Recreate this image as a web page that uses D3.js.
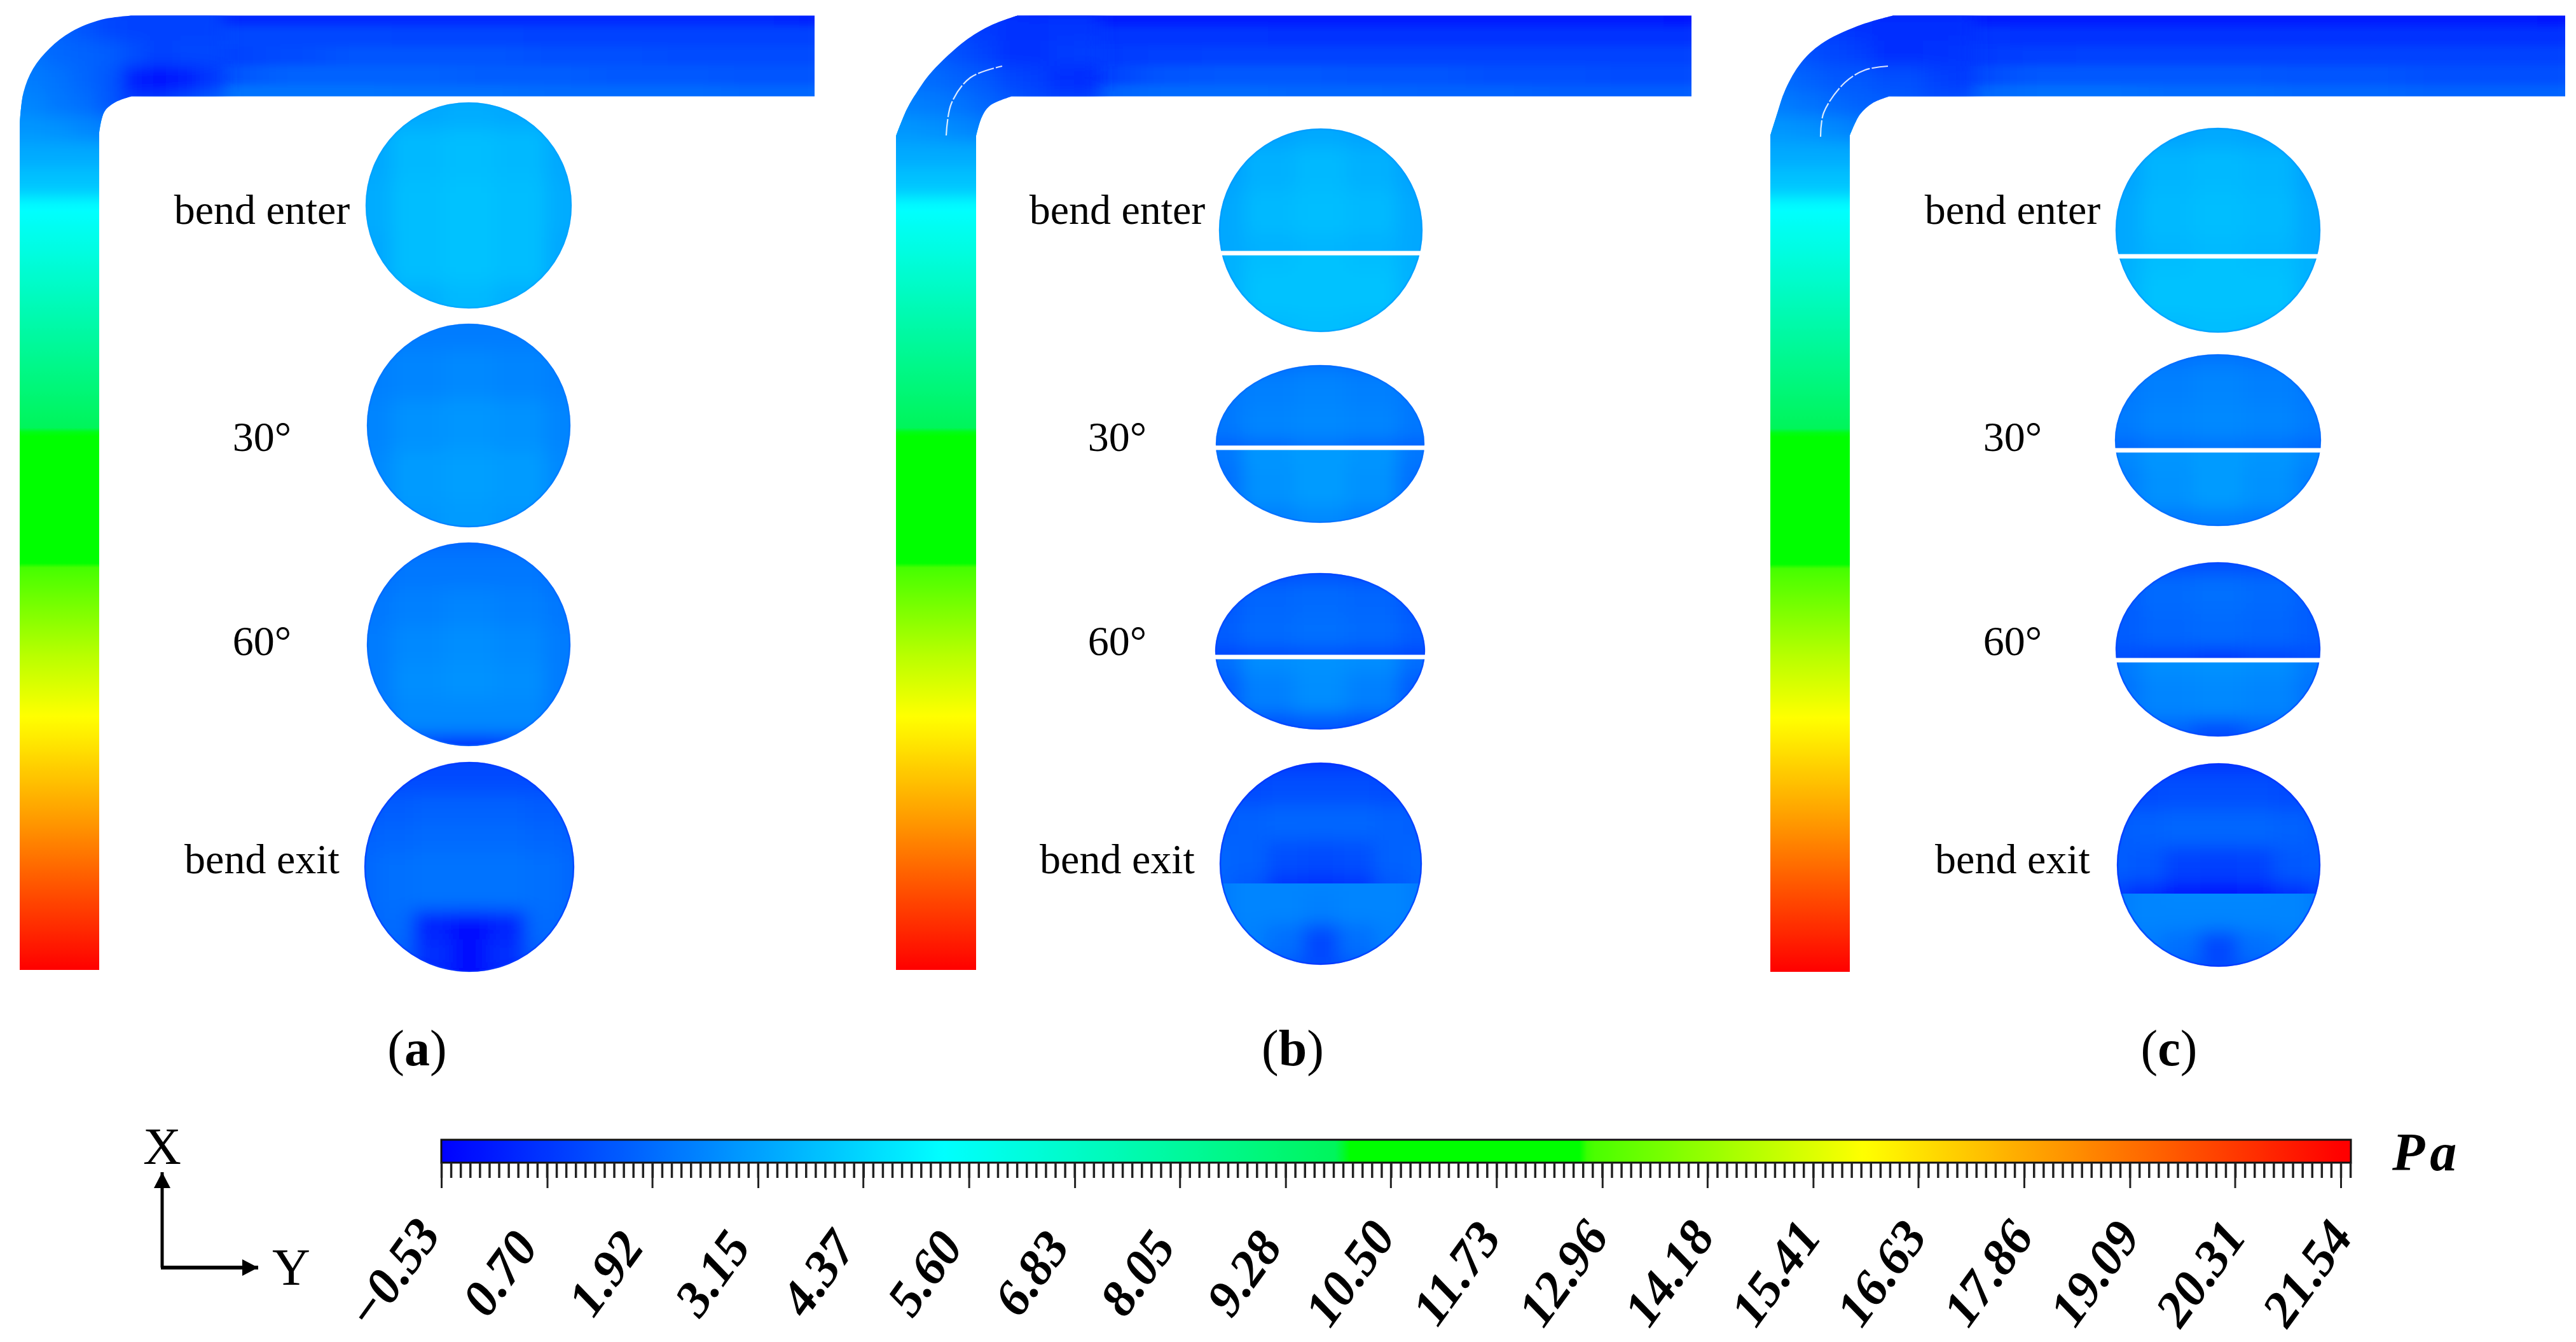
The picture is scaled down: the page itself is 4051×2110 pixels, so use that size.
<!DOCTYPE html>
<meta charset="utf-8">
<style>
body { margin: 0; background: #fff; }
text { font-family: "Liberation Serif", serif; fill: #000; }
</style>
<svg id="chart" width="4051" height="2110"></svg>
<script src="https://d3js.org/d3.v7.min.js"></script>
<script>

// colour bar, values in Pa
var colorStops = [-0.53, 5.29, 9.9, 10.0, 12.7, 12.8, 16.0, 21.54];
var colorNames = ["#0000ff", "#00ffff", "#00f55a", "#00ff00", "#00ff00", "#46ff00", "#ffff00", "#ff0000"];
var barTicks = [-0.53, 0.70, 1.92, 3.15, 4.37, 5.60, 6.83, 8.05, 9.28, 10.50, 11.73, 12.96, 14.18, 15.41, 16.63, 17.86, 19.09, 20.31, 21.54];
var sectionNames = ["bend enter", "30°", "60°", "bend exit"];
var panelNames = ["a", "b", "c"];

// pressure down the straight leg, top of the leg to the inlet
var legStations = [150, 275, 400, 525, 650, 775, 900, 1025, 1150, 1275, 1400, 1525];
var legPressure = [2.7, 4.6, 6.2, 7.9, 9.6, 11.2, 12.9, 14.7, 16.3, 18.0, 19.8, 21.54];

// pressure round the bend
var bendA = [
	[1.6, 1.6, 1.5, 1.3, 1.0, 0.9, 0.9, 0.9, 0.9],
	[1.9, 1.9, 1.7, 1.4, 1.1, 1.0, 1.0, 1.0, 1.0],
	[2.1, 2.1, 1.85, 1.75, 1.6, 1.3, 0.9, 1.07, 1.07],
	[2.3, 2.3, 2.1, 1.8, 1.5, 0.15, -0.3, 0.1, 0.7],
	[2.5, 2.5, 2.2, 2.0, 1.5, 0.8, 0.8, 1.2, 1.6],
	[2.9, 2.9, 2.8, 2.6, 2.4, 2.0, 2.0, 2.0, 2.0],
	[3.35, 3.35, 3.35, 3.35, 3.35, 3.35, 3.35, 3.35, 3.35],
	[3.9, 3.9, 3.9, 3.9, 3.9, 3.9, 3.9, 3.9, 3.9]
];
var bendB = [
	[0.9, 0.9, 0.9, 0.8, 0.6, 0.4, 0.3, 0.3, 0.3],
	[1.3, 1.3, 1.2, 1.0, 0.8, 0.6, 0.6, 0.7, 0.7],
	[1.7, 1.7, 1.6, 1.3, 1.0, 0.6, 0.6, 0.8, 0.85],
	[2.0, 2.0, 1.9, 1.7, 1.5, 1.1, 0.9, 0.5, 0.4],
	[2.4, 2.4, 2.3, 2.1, 1.8, 1.5, 1.2, 1.0, 1.0],
	[2.9, 2.9, 2.8, 2.6, 2.4, 2.0, 2.0, 2.0, 2.0],
	[3.35, 3.35, 3.35, 3.35, 3.35, 3.35, 3.35, 3.35, 3.35],
	[3.9, 3.9, 3.9, 3.9, 3.9, 3.9, 3.9, 3.9, 3.9]
];
var bendC = [
	[0.7, 0.7, 0.7, 0.6, 0.5, 0.3, 0.2, 0.2, 0.2],
	[1.1, 1.1, 1.0, 0.8, 0.6, 0.5, 0.5, 0.5, 0.5],
	[1.5, 1.5, 1.3, 1.1, 0.9, 0.5, 0.5, 0.6, 0.7],
	[1.9, 1.9, 1.7, 1.5, 1.5, 1.3, 1.3, 1.0, 0.8],
	[2.3, 2.3, 2.1, 1.9, 1.7, 1.6, 1.5, 1.3, 1.3],
	[2.9, 2.9, 2.8, 2.6, 2.4, 2.0, 2.0, 2.0, 2.0],
	[3.35, 3.35, 3.35, 3.35, 3.35, 3.35, 3.35, 3.35, 3.35],
	[3.9, 3.9, 3.9, 3.9, 3.9, 3.9, 3.9, 3.9, 3.9]
];

// pressure along the outlet leg, top wall to bottom wall
var outletA = [
	[0.4, 0.4, 0.4, 0.4, 0.4, 0.4, 0.4, 0.4, 0.4, 0.4, 0.3],
	[1.1, 1.1, 1.1, 1.1, 1.05, 1.05, 1.0, 1.0, 1.0, 1.0, 1.0],
	[0.8, 1.0, 1.2, 1.4, 1.4, 1.4, 1.3, 1.3, 1.2, 1.2, 1.2],
	[1.0, 1.4, 1.7, 1.7, 1.7, 1.6, 1.6, 1.5, 1.5, 1.4, 1.4],
	[1.9, 2.1, 2.1, 2.1, 2.0, 2.0, 1.9, 1.9, 1.9, 1.8, 1.8]
];
var outletB = [
	[0.1, 0.1, 0.1, 0.1, 0.1, 0.1, 0.1, 0.1, 0.1, 0.1, 0.0],
	[0.7, 0.7, 0.7, 0.7, 0.6, 0.6, 0.6, 0.6, 0.6, 0.6, 0.6],
	[0.6, 0.8, 0.95, 1.0, 1.0, 1.0, 1.0, 1.0, 1.0, 1.0, 1.0],
	[0.6, 1.0, 1.4, 1.5, 1.5, 1.4, 1.4, 1.3, 1.3, 1.2, 1.2],
	[1.6, 1.7, 1.9, 1.9, 1.8, 1.8, 1.7, 1.7, 1.6, 1.6, 1.6]
];
var outletC = [
	[0.1, 0.1, 0.1, 0.1, 0.1, 0.1, 0.1, 0.1, 0.1, 0.1, 0.0],
	[0.7, 0.7, 0.6, 0.6, 0.6, 0.6, 0.6, 0.6, 0.6, 0.6, 0.6],
	[0.7, 0.8, 0.95, 1.0, 1.0, 1.0, 1.0, 1.0, 1.0, 1.0, 1.0],
	[0.9, 1.2, 1.5, 1.5, 1.5, 1.5, 1.4, 1.4, 1.3, 1.3, 1.3],
	[1.7, 1.8, 2.0, 2.0, 1.9, 1.9, 1.8, 1.8, 1.7, 1.7, 1.7]
];

// pressure over the cross sections
var aEnter = [
	[3.3, 3.3, 3.4, 3.3, 3.3],
	[3.3, 3.7, 3.8, 3.7, 3.3],
	[3.4, 3.8, 3.9, 3.8, 3.4],
	[3.3, 3.8, 3.9, 3.8, 3.3],
	[3.3, 3.5, 3.7, 3.5, 3.3]
];
var a30 = [
	[2.3, 2.3, 2.3, 2.3, 2.3],
	[2.4, 2.5, 2.6, 2.5, 2.4],
	[2.5, 2.8, 2.9, 2.8, 2.5],
	[2.6, 3.0, 3.1, 3.0, 2.6],
	[2.6, 2.9, 3.0, 2.9, 2.6]
];
var a60 = [
	[1.9, 1.9, 1.9, 1.9, 1.9],
	[2.0, 2.2, 2.2, 2.2, 2.0],
	[2.2, 2.4, 2.5, 2.4, 2.2],
	[2.3, 2.6, 2.7, 2.6, 2.3],
	[2.3, 2.7, 2.8, 2.7, 2.3],
	[2.2, 2.6, 2.6, 2.6, 2.2],
	[0.5, 0.5, 0.3, 0.5, 0.5]
];
var aExit = [
	[0.9, 0.9, 0.9, 0.9, 0.9, 0.9, 0.9],
	[1.2, 1.2, 1.2, 1.2, 1.2, 1.2, 1.2],
	[1.5, 1.6, 1.7, 1.7, 1.7, 1.6, 1.5],
	[1.7, 1.8, 1.9, 1.9, 1.9, 1.8, 1.7],
	[1.8, 2.0, 2.1, 2.1, 2.1, 2.0, 1.8],
	[1.8, 2.0, 2.1, 2.1, 2.1, 2.0, 1.8],
	[1.8, 1.9, 0.3, -0.2, 0.3, 1.9, 1.8],
	[1.6, 1.7, 0.5, -0.3, 0.5, 1.7, 1.6],
	[0.6, 0.6, 0.2, -0.2, 0.2, 0.6, 0.6]
];
var bEnterTop = [
	[3.1, 3.2, 3.3, 3.2, 3.1],
	[3.2, 3.5, 3.7, 3.5, 3.2],
	[3.3, 3.7, 3.8, 3.7, 3.3],
	[3.3, 3.5, 3.6, 3.5, 3.3]
];
var bEnterBottom = [
	[3.5, 3.8, 3.9, 3.8, 3.5],
	[3.5, 3.9, 3.9, 3.9, 3.5],
	[3.3, 3.7, 3.8, 3.7, 3.3]
];
var b30Top = [
	[2.0, 2.0, 2.1, 2.0, 2.0],
	[2.2, 2.4, 2.5, 2.4, 2.2],
	[2.2, 2.5, 2.6, 2.5, 2.2],
	[1.6, 1.8, 2.0, 1.8, 1.6]
];
var b30Bottom = [
	[2.2, 2.9, 3.0, 2.9, 2.2],
	[2.0, 2.8, 3.0, 2.8, 2.0],
	[1.9, 2.4, 2.6, 2.4, 1.9]
];
var b60Top = [
	[1.1, 1.1, 1.2, 1.1, 1.1],
	[1.5, 1.8, 1.9, 1.8, 1.5],
	[1.6, 1.9, 2.0, 1.9, 1.6],
	[1.0, 1.1, 1.2, 1.1, 1.0]
];
var b60Bottom = [
	[2.0, 2.7, 2.8, 2.7, 2.0],
	[1.6, 2.4, 2.7, 2.4, 1.6],
	[1.2, 1.3, 1.4, 1.3, 1.2]
];
var bExitTop = [
	[0.7, 0.7, 0.7, 0.7, 0.7, 0.7, 0.7],
	[1.1, 1.2, 1.3, 1.3, 1.3, 1.2, 1.1],
	[1.6, 1.7, 1.8, 1.8, 1.8, 1.7, 1.6],
	[1.8, 1.7, 1.3, 1.2, 1.3, 1.7, 1.8],
	[1.8, 1.5, 0.7, 0.5, 0.7, 1.5, 1.8]
];
var bExitBottom = [
	[2.2, 2.5, 2.5, 2.5, 2.5, 2.5, 2.2],
	[2.2, 2.5, 2.5, 2.4, 2.5, 2.5, 2.2],
	[1.9, 2.4, 2.0, 1.1, 2.0, 2.4, 1.9],
	[1.3, 1.5, 1.5, 1.2, 1.5, 1.5, 1.3]
];
var cEnterTop = [
	[3.1, 3.2, 3.3, 3.2, 3.1],
	[3.2, 3.6, 3.7, 3.6, 3.2],
	[3.3, 3.7, 3.8, 3.7, 3.3],
	[3.3, 3.6, 3.7, 3.6, 3.3]
];
var cEnterBottom = [
	[3.5, 3.8, 3.9, 3.8, 3.5],
	[3.5, 3.9, 3.9, 3.9, 3.5],
	[3.3, 3.7, 3.8, 3.7, 3.3]
];
var c30Top = [
	[2.0, 2.0, 2.1, 2.0, 2.0],
	[2.2, 2.4, 2.5, 2.4, 2.2],
	[2.3, 2.5, 2.6, 2.5, 2.3],
	[1.8, 2.0, 2.1, 2.0, 1.8]
];
var c30Bottom = [
	[2.6, 2.9, 3.0, 2.9, 2.6],
	[2.4, 2.8, 3.0, 2.8, 2.4],
	[1.9, 2.2, 2.3, 2.2, 1.9]
];
var c60Top = [
	[1.2, 1.2, 1.2, 1.2, 1.2],
	[1.6, 1.9, 2.0, 1.9, 1.6],
	[1.6, 1.8, 1.9, 1.8, 1.6],
	[1.2, 1.0, 0.6, 1.0, 1.2]
];
var c60Bottom = [
	[2.3, 2.7, 2.8, 2.7, 2.3],
	[2.1, 2.5, 2.6, 2.5, 2.1],
	[1.5, 1.7, 1.2, 1.7, 1.5]
];
var cExitTop = [
	[0.7, 0.7, 0.7, 0.7, 0.7, 0.7, 0.7],
	[1.1, 1.2, 1.3, 1.3, 1.3, 1.2, 1.1],
	[1.5, 1.7, 1.8, 1.8, 1.8, 1.7, 1.5],
	[1.6, 1.5, 1.0, 0.9, 1.0, 1.5, 1.6],
	[1.0, 0.4, 0.0, -0.2, 0.0, 0.4, 1.0]
];
var cExitBottom = [
	[2.2, 2.5, 2.6, 2.6, 2.6, 2.5, 2.2],
	[2.2, 2.5, 2.5, 2.5, 2.5, 2.5, 2.2],
	[1.9, 2.3, 2.0, 1.1, 2.0, 2.3, 1.9],
	[1.3, 1.5, 1.5, 1.2, 1.5, 1.5, 1.3]
];

// layout, in page pixels
var layout = [
	{ name: "a", left: 31, right: 156, end: 1281, bottom: 1525, labelX: 412, tagX: 656, bend: bendA, outlet: outletA,
		outer: [[31, 194], [37, 145], [52, 108], [78, 76], [112, 50], [159, 31], [207, 24.5]],
		inner: [[207, 151.5], [181, 161], [164, 176], [156, 209]],
		sliver: null,
		sections: [
			{ cx: 737, cy: 323, rx: 162, ry: 162, top: aEnter },
			{ cx: 737, cy: 669, rx: 160, ry: 160, top: a30 },
			{ cx: 737, cy: 1013, rx: 160, ry: 160, top: a60 },
			{ cx: 738, cy: 1363, rx: 165, ry: 165, top: aExit }
		] },
	{ name: "b", left: 1409, right: 1535, end: 2660, bottom: 1525, labelX: 1757, tagX: 2033, bend: bendB, outlet: outletB,
		outer: [[1409, 214], [1426, 172], [1445, 140], [1466, 112], [1518, 64], [1558, 40], [1600, 24.5]],
		inner: [[1591, 151.5], [1557, 166], [1544, 184], [1535, 214]],
		sliver: [[1488, 213], [1496, 163], [1526, 122], [1576, 104]],
		sections: [
			{ cx: 2077, cy: 362, rx: 160, ry: 160, split: 398, gap: 7, top: bEnterTop, low: bEnterBottom },
			{ cx: 2076, cy: 698, rx: 164, ry: 124, split: 704, gap: 7, top: b30Top, low: b30Bottom },
			{ cx: 2076, cy: 1024, rx: 165, ry: 123, split: 1033, gap: 7, top: b60Top, low: b60Bottom },
			{ cx: 2077, cy: 1358, rx: 159, ry: 159, split: 1389, gap: 0, top: bExitTop, low: bExitBottom }
		] },
	{ name: "c", left: 2784, right: 2909, end: 4034, bottom: 1528, labelX: 3165, tagX: 3411, bend: bendC, outlet: outletC,
		outer: [[2784, 213], [2795, 178], [2808, 140], [2832, 99], [2864, 69], [2921, 41], [2977, 24.5]],
		inner: [[2971, 151.5], [2945, 162], [2925, 180], [2909, 213]],
		sliver: [[2863, 215], [2868, 177], [2901, 130], [2933, 110], [2969, 104]],
		sections: [
			{ cx: 3488, cy: 362, rx: 161, ry: 161, split: 403, gap: 7, top: cEnterTop, low: cEnterBottom },
			{ cx: 3488, cy: 692, rx: 162, ry: 135, split: 708, gap: 7, top: c30Top, low: c30Bottom },
			{ cx: 3488, cy: 1021, rx: 161, ry: 137, split: 1038, gap: 7, top: c60Top, low: c60Bottom },
			{ cx: 3489, cy: 1360, rx: 160, ry: 160, split: 1405, gap: 0, top: cExitTop, low: cExitBottom }
		] }
];
var labelBaselines = [352, 709, 1030, 1373];

var svg = d3.select("svg#chart"),
	defs = svg.append("defs");

var color = d3.scaleLinear()
	.domain(colorStops)
	.range(colorNames)
	.clamp(true);

var barX = d3.scaleLinear()
	.domain([barTicks[0], barTicks[barTicks.length - 1]])
	.range([694, 3681]);

// the labels sit a touch wider apart than the ticks
var labelX = d3.scaleLinear()
	.domain(barX.domain())
	.range([618, 3628]);

var legY = d3.scaleLinear()
	.domain(legStations)
	.range(legPressure);

function blur(id, sx, sy) {
	defs.append("filter")
		.attr("id", id)
		.attr("x", "-10%").attr("y", "-10%")
		.attr("width", "120%").attr("height", "120%")
		.append("feGaussianBlur")
		.attr("stdDeviation", sx + " " + sy);
}
blur("soft", 14, 14);
blur("softLeg", 30, 6);
blur("softBend", 14, 12);

// one matrix of pressures as cells on the box x0..x1, y0..y1
function drawCells(parent, matrix, x0, x1, y0, y1, filter) {
	var x = d3.scaleLinear().domain([0, matrix[0].length]).range([x0, x1]),
		y = d3.scaleLinear().domain([0, matrix.length]).range([y0, y1]);
	var rows = parent.append("g")
		.attr("filter", "url(#" + filter + ")")
		.selectAll("g")
		.data(matrix)
		.enter().append("g");
	rows.selectAll("rect")
		.data(function(row, i) { return row.map(function(v, j) { return { i: i, j: j, v: v }; }); })
		.enter().append("rect")
			.attr("x", function(d) { return x(d.j); })
			.attr("y", function(d) { return y(d.i); })
			.attr("width", x(1) - x(0) + 0.5)
			.attr("height", y(1) - y(0) + 0.5)
			.attr("shape-rendering", "crispEdges")
			.attr("fill", function(d) { return color(d.v); });
}

function drawPipe(panel, n) {
	var curve = d3.line().curve(d3.curveCatmullRom.alpha(0.5));
	var outline = "M" + panel.left + "," + panel.bottom + "L" + curve(panel.outer).slice(1)
		+ "L" + panel.end + ",24.5L" + panel.end + ",151.5L" + curve(panel.inner).slice(1)
		+ "L" + panel.right + "," + panel.bottom + "Z";

	defs.append("clipPath").attr("id", "pipe" + n).append("path").attr("d", outline);

	var grad = defs.append("linearGradient")
		.attr("id", "leg" + n)
		.attr("gradientUnits", "userSpaceOnUse")
		.attr("x1", 0).attr("x2", 0)
		.attr("y1", 150).attr("y2", panel.bottom);
	grad.selectAll("stop")
		.data(d3.range(0, 1.0001, 0.005))
		.enter().append("stop")
			.attr("offset", function(d) { return d; })
			.attr("stop-color", function(d) { return color(legY(150 + d * (1525 - 150))); });

	var g = svg.append("g").attr("clip-path", "url(#pipe" + n + ")");
	g.append("rect")
		.attr("x", panel.left - 10).attr("y", 150)
		.attr("width", panel.right - panel.left + 20).attr("height", panel.bottom - 150)
		.attr("fill", "url(#leg" + n + ")");

	drawCells(g, panel.outlet, panel.left + 170, panel.end + 60, 12, 164, "softLeg");
	drawCells(g, panel.bend, panel.left - 40, panel.left + 320, -16, 304, "softBend");

	if (panel.sliver) {
		svg.append("path")
			.attr("d", curve(panel.sliver))
			.attr("fill", "none")
			.attr("stroke", "#fff")
			.attr("stroke-width", 2.2)
			.attr("stroke-opacity", 0.85)
			.attr("stroke-dasharray", "26 3");
	}
}

function drawSection(sec, id) {
	defs.append("clipPath").attr("id", id).append("ellipse")
		.attr("cx", sec.cx).attr("cy", sec.cy).attr("rx", sec.rx).attr("ry", sec.ry);

	var g = svg.append("g").attr("clip-path", "url(#" + id + ")"),
		x0 = sec.cx - sec.rx - 40,
		x1 = sec.cx + sec.rx + 40;

	if (sec.low) {
		defs.append("clipPath").attr("id", id + "t").append("rect")
			.attr("x", x0).attr("y", sec.cy - sec.ry - 10)
			.attr("width", x1 - x0).attr("height", sec.split - sec.cy + sec.ry + 10);
		defs.append("clipPath").attr("id", id + "l").append("rect")
			.attr("x", x0).attr("y", sec.split)
			.attr("width", x1 - x0).attr("height", sec.cy + sec.ry + 10 - sec.split);
		drawCells(g.append("g").attr("clip-path", "url(#" + id + "t)"), sec.top, x0, x1, sec.cy - sec.ry - 40, sec.split + 40, "soft");
		drawCells(g.append("g").attr("clip-path", "url(#" + id + "l)"), sec.low, x0, x1, sec.split - 40, sec.cy + sec.ry + 40, "soft");
	} else {
		drawCells(g, sec.top, x0, x1, sec.cy - sec.ry - 40, sec.cy + sec.ry + 40, "soft");
	}

	// the wall ring runs a little darker
	svg.append("ellipse")
		.attr("cx", sec.cx).attr("cy", sec.cy)
		.attr("rx", sec.rx - 1).attr("ry", sec.ry - 1)
		.attr("fill", "none")
		.attr("stroke", color(sec.top[0][0] - 0.2))
		.attr("stroke-width", 2.5)
		.attr("stroke-opacity", 0.6);

	if (sec.gap) {
		svg.append("rect")
			.attr("x", x0).attr("y", sec.split - sec.gap / 2)
			.attr("width", x1 - x0).attr("height", sec.gap)
			.attr("fill", "#fff");
	}
}

layout.forEach(function(panel, n) {
	drawPipe(panel, n);
	panel.sections.forEach(function(sec, k) {
		drawSection(sec, "sec" + n + "_" + k);
	});

	svg.append("g").selectAll("text")
		.data(sectionNames)
		.enter().append("text")
			.attr("x", panel.labelX)
			.attr("y", function(d, i) { return labelBaselines[i]; })
			.attr("text-anchor", "middle")
			.attr("font-size", 66)
			.text(function(d) { return d; });

	var tag = svg.append("text")
		.attr("x", panel.tagX)
		.attr("y", 1675)
		.attr("text-anchor", "middle")
		.attr("font-size", 80);
	tag.append("tspan").text("(");
	tag.append("tspan").attr("font-weight", "bold").text(panelNames[n]);
	tag.append("tspan").text(")");
});

// colour bar
var barGrad = defs.append("linearGradient").attr("id", "bar");
barGrad.selectAll("stop")
	.data(d3.range(0, 1.0001, 0.004))
	.enter().append("stop")
		.attr("offset", function(d) { return d; })
		.attr("stop-color", function(d) { return color(barX.invert(694 + d * (3697 - 694))); });

svg.append("rect")
	.attr("x", 694).attr("y", 1792)
	.attr("width", 3697 - 694).attr("height", 36)
	.attr("fill", "url(#bar)")
	.attr("stroke", "#111")
	.attr("stroke-width", 3);

var minorStep = (barTicks[18] - barTicks[0]) / 18 / 11;

svg.append("g")
	.attr("transform", "translate(0,1828)")
	.call(d3.axisBottom(barX)
		.tickValues(d3.range(barTicks[0], barX.invert(3699), minorStep))
		.tickSize(24)
		.tickFormat(""))
	.call(function(g) { g.select(".domain").remove(); })
	.call(function(g) { g.selectAll("line").attr("stroke", "#222").attr("stroke-width", 3.5); });

svg.append("g")
	.attr("transform", "translate(0,1828)")
	.call(d3.axisBottom(barX)
		.tickValues(barTicks)
		.tickSize(40)
		.tickFormat(d3.format(".2f")))
	.call(function(g) { g.select(".domain").remove(); })
	.call(function(g) { g.selectAll("line").attr("stroke", "#222").attr("stroke-width", 3); })
	.call(function(g) {
		g.selectAll("text")
			.attr("x", null).attr("y", null)
			.attr("dy", "0.33em")
			.attr("text-anchor", "middle")
			.attr("transform", function(d) {
				return "translate(" + (labelX(d) - barX(d)) + ",174) rotate(-54)";
			})
			.attr("font-family", "Liberation Serif")
			.attr("font-weight", "bold")
			.attr("font-style", "italic")
			.attr("font-size", 80)
			.attr("fill", "#000");
	});

svg.append("text")
	.attr("x", 3762).attr("y", 1840)
	.attr("font-size", 84)
	.attr("font-weight", "bold")
	.attr("font-style", "italic")
	.attr("letter-spacing", 8)
	.text("Pa");

// X and Y arrows
defs.append("marker")
	.attr("id", "head")
	.attr("viewBox", "0 0 25 26")
	.attr("refX", 25).attr("refY", 13)
	.attr("markerUnits", "userSpaceOnUse")
	.attr("markerWidth", 25).attr("markerHeight", 26)
	.attr("orient", "auto")
	.append("path")
		.attr("d", "M0,0L25,13L0,26Z")
		.attr("fill", "#000");

svg.append("path")
	.attr("d", "M255,1993L255,1843")
	.attr("stroke", "#000").attr("stroke-width", 5)
	.attr("marker-end", "url(#head)");
svg.append("path")
	.attr("d", "M253,1993L406,1993")
	.attr("stroke", "#000").attr("stroke-width", 6)
	.attr("marker-end", "url(#head)");

svg.append("text")
	.attr("x", 255).attr("y", 1830)
	.attr("text-anchor", "middle").attr("font-size", 83)
	.text("X");
svg.append("text")
	.attr("x", 458).attr("y", 2020)
	.attr("text-anchor", "middle").attr("font-size", 83)
	.text("Y");

</script>
